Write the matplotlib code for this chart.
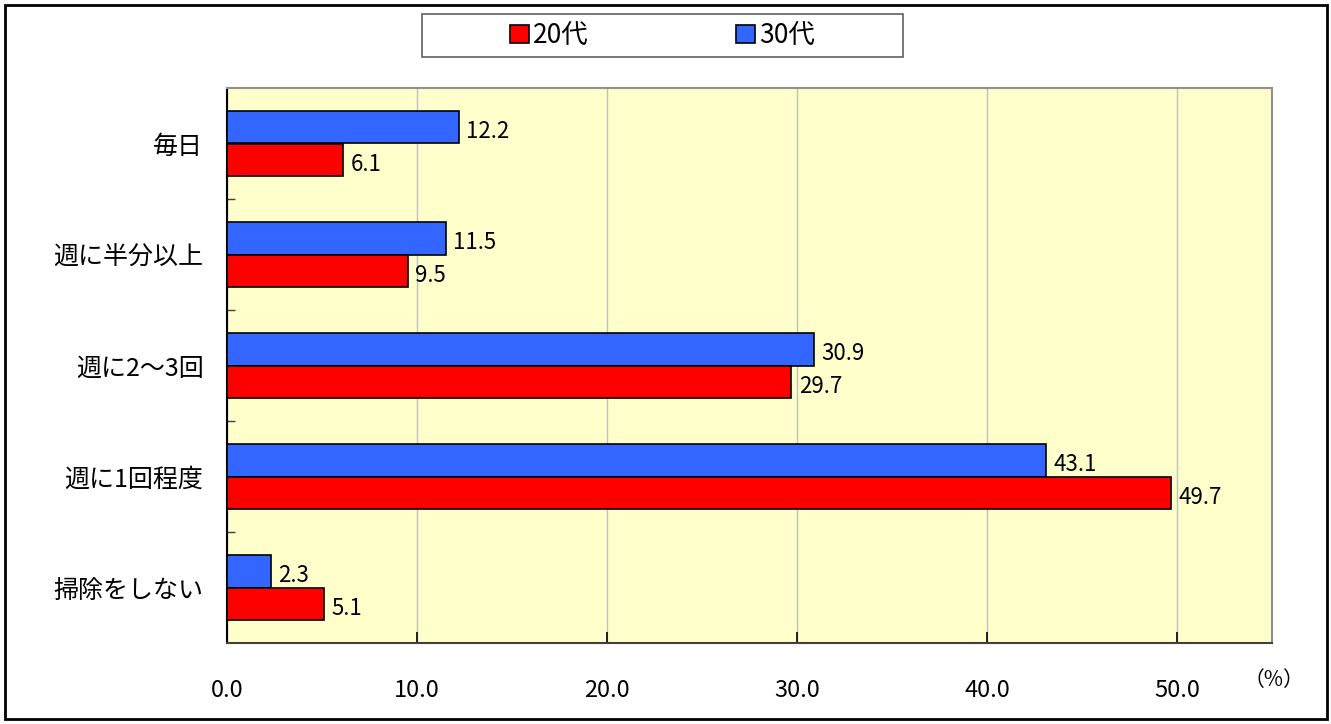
import numpy as np
import matplotlib.pyplot as plt
from matplotlib.patches import Rectangle, Patch

plt.rcParams['font.family'] = ['Noto Sans CJK JP', 'DejaVu Sans']

categories = ["毎日", "週に半分以上", "週に2～3回", "週に1回程度", "掃除をしない"]
vals_20 = [6.1, 9.5, 29.7, 49.7, 5.1]
vals_30 = [12.2, 11.5, 30.9, 43.1, 2.3]
series_names = ["20代", "30代"]
xticks = [0, 10, 20, 30, 40, 50]

red = "#FF0000"
blue = "#3366FF"

fig = plt.figure(figsize=(13.31, 7.24), dpi=100)
ax = fig.add_axes([227 / 1331, 1 - 643 / 724, (1272 - 227) / 1331, (643 - 88) / 724])
ax.set_facecolor("#FFFFCC")

y = np.arange(len(categories))
h = 0.29
ax.barh(y - h / 2, vals_30, height=h, color=blue, edgecolor="black", linewidth=1.2, zorder=3)
ax.barh(y + h / 2, vals_20, height=h, color=red, edgecolor="black", linewidth=1.2, zorder=3)

for yi, v in zip(y, vals_30):
    ax.text(v + 0.4, yi - h / 2 + 0.04, f"{v:.1f}", va="center", ha="left", fontsize=16, zorder=4)
for yi, v in zip(y, vals_20):
    ax.text(v + 0.4, yi + h / 2 + 0.04, f"{v:.1f}", va="center", ha="left", fontsize=16, zorder=4)

ax.set_xlim(0, 55)
ax.set_ylim(len(categories) - 0.5, -0.5)
ax.set_xticks(xticks)
ax.set_xticklabels([f"{t:.1f}" for t in xticks], fontsize=17)
ax.xaxis.grid(True, color="#C0C0C0", linewidth=1, zorder=0)
ax.tick_params(axis="x", direction="in", length=8, width=1.2, pad=26, color="black")

ax.set_yticks(y)
ax.set_yticklabels(categories, fontsize=18)
ax.set_yticks(np.arange(0.5, len(categories) - 0.5, 1), minor=True)
ax.tick_params(axis="y", which="major", length=0, pad=17)
ax.tick_params(axis="y", which="minor", direction="in", length=6, width=1, color="#404040")

ax.spines["left"].set_color("black")
ax.spines["left"].set_linewidth(1.5)
ax.spines["bottom"].set_color("#404040")
ax.spines["bottom"].set_linewidth(1.5)
ax.spines["top"].set_color("#909090")
ax.spines["top"].set_linewidth(1.5)
ax.spines["right"].set_color("#909090")
ax.spines["right"].set_linewidth(1.5)

fig.text(1274 / 1331, 1 - 680 / 724, "（%）", ha="center", va="center", fontsize=15)

# legend box drawn by hand so the entries sit centered like the original
lx0, ly0, lx1, ly1 = 422, 14, 903, 57
fig.patches.append(Rectangle((lx0 / 1331, 1 - ly1 / 724), (lx1 - lx0) / 1331, (ly1 - ly0) / 724,
                             transform=fig.transFigure, facecolor="white", edgecolor="#606060",
                             linewidth=1.2, zorder=1))
handles = [Patch(facecolor=red, edgecolor="black", linewidth=1.2),
           Patch(facecolor=blue, edgecolor="black", linewidth=1.2)]
fig.legend(handles, series_names, loc="center", ncol=2, frameon=False, fontsize=19,
           bbox_to_anchor=((lx0 + lx1) / 2 / 1331, 1 - (ly0 + ly1) / 2 / 724),
           handlelength=0.7, handleheight=0.7, handletextpad=0.15, columnspacing=5.6)

# outer border
fig.patches.append(Rectangle((5 / 1331, 5 / 724), 1322 / 1331, 714 / 724, transform=fig.transFigure,
                             facecolor="none", edgecolor="black", linewidth=2, zorder=0))

fig.savefig("out.png", dpi=100)
